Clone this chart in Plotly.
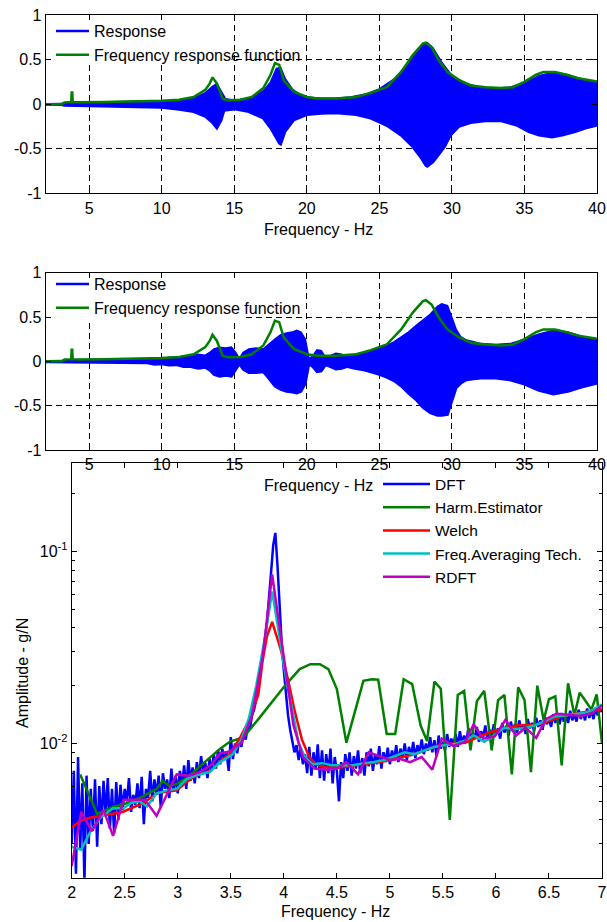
import numpy as np
import plotly.graph_objects as go

# ---------------- Panels 1 & 2: frequency response function (green) ----------------
frf_freq = [2, 3.1, 3.3, 3.7, 3.76, 3.79, 3.83, 3.86, 4.2, 6, 8, 10, 11.2, 12.2, 13.0, 13.3,
            13.5, 13.8, 14.2, 14.6, 15.4, 16.2, 17.0, 17.5, 17.8, 18.1, 18.4, 19.1, 20.0,
            20.7, 22.0, 23.4, 24.4, 25.5, 26.5, 27.3, 28.0, 28.2, 28.6, 29.1, 29.7, 30.5,
            31.3, 32.3, 33.4, 34.2, 35.0, 35.8, 36.3, 37.1, 37.9, 38.7, 39.8, 40]
frf_amp = [0, 0, 0.02, 0.022, 0.025, 0.13, 0.13, 0.025, 0.022, 0.025, 0.03, 0.037, 0.05, 0.08,
           0.16, 0.23, 0.30, 0.23, 0.06, 0.045, 0.05, 0.08, 0.18, 0.33, 0.46, 0.44, 0.27, 0.14,
           0.08, 0.064, 0.064, 0.08, 0.127, 0.19, 0.36, 0.55, 0.68, 0.69, 0.64, 0.49, 0.36,
           0.27, 0.21, 0.19, 0.18, 0.19, 0.25, 0.33, 0.36, 0.36, 0.33, 0.29, 0.26, 0.255]

# Panel 1: response envelope (upper / lower edge of the blue band)
resp1_up_freq = [2, 2.5, 3.1, 3.3, 5, 8, 10, 11, 12, 12.5, 13, 13.5, 13.8, 14.1, 14.4, 15, 16,
                 17, 17.5, 17.9, 18.2, 18.5, 19, 19.5, 20, 21, 22, 23, 24, 25, 26, 27, 27.5, 28,
                 28.3, 28.7, 29.3, 30, 31, 32, 33, 34, 35, 36, 37, 38, 39, 40]
resp1_up = [0.005, 0.005, 0.006, 0.015, 0.02, 0.025, 0.03, 0.04, 0.06, 0.09, 0.13, 0.2, 0.23,
            0.15, 0.06, 0.045, 0.06, 0.15, 0.25, 0.40, 0.41, 0.29, 0.17, 0.11, 0.08, 0.065,
            0.065, 0.08, 0.11, 0.17, 0.28, 0.46, 0.57, 0.66, 0.69, 0.63, 0.47, 0.32, 0.23,
            0.19, 0.18, 0.19, 0.24, 0.32, 0.36, 0.33, 0.28, 0.25]
resp1_lo_freq = [2, 3.1, 3.3, 5, 8, 10, 11.2, 12.2, 13.0, 13.5, 13.8, 14.1, 14.3, 15, 16, 17,
                 17.5, 18.1, 18.2, 18.5, 19.1, 20, 21, 22, 23.4, 24.4, 25.5, 26.5, 27.3, 27.9,
                 28.2, 28.3, 28.7, 29.1, 29.5, 29.9, 30.5, 31.3, 32.3, 33.4, 34.5, 35.3, 36.0,
                 36.9, 37.6, 38.5, 39.2, 40]
resp1_lo = [-0.005, -0.006, -0.015, -0.02, -0.025, -0.037, -0.06, -0.086, -0.14, -0.21, -0.27,
            -0.18, -0.07, -0.056, -0.086, -0.16, -0.27, -0.44, -0.45, -0.31, -0.18, -0.12,
            -0.105, -0.1, -0.12, -0.16, -0.24, -0.35, -0.48, -0.61, -0.69, -0.70, -0.65, -0.57,
            -0.48, -0.35, -0.25, -0.21, -0.19, -0.19, -0.24, -0.31, -0.35, -0.37, -0.35, -0.31,
            -0.27, -0.24]

# Panel 2: delayed response envelope
resp2_freq = [2, 3, 4, 5, 6, 7, 8, 9, 9.5, 10, 10.5, 11, 11.5, 12, 12.5, 13, 13.3, 13.6, 14.0,
              14.4, 14.8, 15.1, 15.35, 15.6, 16.0, 16.5, 17.0, 17.4, 17.8, 18.2, 18.6, 19.0,
              19.3, 19.6, 19.9, 20.15, 20.4, 20.7, 21.0, 21.3, 21.6, 22.0, 22.4, 22.8, 23.3,
              24, 25, 25.5, 26, 26.5, 27, 27.5, 28, 28.5, 29, 29.3, 29.7, 30.0, 30.3, 30.6, 31,
              31.5, 32, 33, 34, 35, 36, 37, 38, 39, 40]
resp2_up = [0.008, 0.01, 0.012, 0.015, 0.012, 0.015, 0.018, 0.02, 0.035, 0.03, 0.045, 0.04,
            0.06, 0.055, 0.08, 0.07, 0.1, 0.14, 0.16, 0.15, 0.16, 0.1, 0.03, 0.1, 0.14, 0.15,
            0.14, 0.2, 0.25, 0.3, 0.32, 0.33, 0.35, 0.33, 0.25, 0.03, 0.06, 0.13, 0.12, 0.04,
            0.06, 0.09, 0.08, 0.05, 0.08, 0.1, 0.15, 0.18, 0.22, 0.27, 0.33, 0.4, 0.46, 0.53,
            0.62, 0.65, 0.63, 0.5, 0.36, 0.28, 0.24, 0.22, 0.2, 0.19, 0.2, 0.25, 0.31, 0.35,
            0.33, 0.28, 0.25]
resp2_lo = [-0.008, -0.01, -0.012, -0.015, -0.012, -0.015, -0.018, -0.02, -0.035, -0.03,
            -0.045, -0.04, -0.06, -0.06, -0.08, -0.07, -0.1, -0.15, -0.17, -0.16, -0.17, -0.1,
            -0.03, -0.09, -0.13, -0.13, -0.12, -0.2, -0.28, -0.32, -0.34, -0.35, -0.36, -0.34,
            -0.25, -0.03, -0.06, -0.12, -0.11, -0.04, -0.06, -0.09, -0.08, -0.06, -0.08, -0.1,
            -0.15, -0.18, -0.22, -0.28, -0.36, -0.43, -0.52, -0.58, -0.61, -0.61, -0.6, -0.45,
            -0.3, -0.25, -0.21, -0.2, -0.19, -0.19, -0.21, -0.26, -0.33, -0.37, -0.34, -0.29,
            -0.25]

# ---------------- Panel 3: amplitude estimates ----------------
dft_freq = np.round(np.linspace(2.0, 7.0, 251), 2)
dft_amp = [
    0.0030, 0.0072, 0.0021, 0.0085, 0.0028, 0.0062, 0.0019, 0.0068, 0.0030, 0.0058,
    0.0035, 0.0065, 0.0029, 0.0060, 0.0038, 0.0064, 0.0042, 0.0066, 0.0036, 0.0058,
    0.0034, 0.0063, 0.0040, 0.0061, 0.0045, 0.0058, 0.0050, 0.0066, 0.0044, 0.0054,
    0.0048, 0.0062, 0.0046, 0.0067, 0.0038, 0.0058, 0.0052, 0.0072, 0.0050, 0.0065,
    0.0054, 0.0068, 0.0046, 0.0070, 0.0058, 0.0065, 0.0052, 0.0074, 0.0056, 0.0068,
    0.0055, 0.0072, 0.0060, 0.0077, 0.0058, 0.0082, 0.0064, 0.0075, 0.0062, 0.0080,
    0.0066, 0.0086, 0.0070, 0.0079, 0.0066, 0.0083, 0.0072, 0.0088, 0.0074, 0.0092,
    0.0078, 0.0094, 0.0082, 0.0090, 0.0072, 0.0108, 0.0083, 0.0100, 0.0089, 0.0104,
    0.0096, 0.0112, 0.0105, 0.0122, 0.0118, 0.0140, 0.0150, 0.0172, 0.0195, 0.0240,
    0.0280, 0.0340, 0.0420, 0.0550, 0.0780, 0.1080, 0.1250, 0.0850, 0.0500, 0.0330,
    0.0240, 0.0180, 0.0140, 0.0118, 0.0102, 0.0090, 0.0098, 0.0082, 0.0095, 0.0078,
    0.0088, 0.0070, 0.0096, 0.0068, 0.0090, 0.0074, 0.0099, 0.0066, 0.0092, 0.0064,
    0.0088, 0.0070, 0.0094, 0.0062, 0.0085, 0.0072, 0.0050, 0.0080, 0.0066, 0.0088,
    0.0072, 0.0090, 0.0068, 0.0086, 0.0074, 0.0092, 0.0070, 0.0084, 0.0068, 0.0090,
    0.0076, 0.0094, 0.0072, 0.0088, 0.0078, 0.0097, 0.0074, 0.0090, 0.0080, 0.0095,
    0.0078, 0.0092, 0.0082, 0.0098, 0.0080, 0.0094, 0.0084, 0.0100, 0.0082, 0.0096,
    0.0086, 0.0102, 0.0084, 0.0098, 0.0090, 0.0105, 0.0088, 0.0100, 0.0092, 0.0108,
    0.0090, 0.0104, 0.0086, 0.0110, 0.0094, 0.0102, 0.0092, 0.0112, 0.0096, 0.0106,
    0.0098, 0.0112, 0.0096, 0.0116, 0.0100, 0.0110, 0.0102, 0.0120, 0.0104, 0.0114,
    0.0106, 0.0122, 0.0102, 0.0116, 0.0108, 0.0124, 0.0104, 0.0118, 0.0110, 0.0126,
    0.0112, 0.0120, 0.0106, 0.0128, 0.0114, 0.0124, 0.0110, 0.0130, 0.0116, 0.0126,
    0.0114, 0.0132, 0.0118, 0.0126, 0.0112, 0.0134, 0.0120, 0.0128, 0.0116, 0.0136,
    0.0122, 0.0132, 0.0118, 0.0138, 0.0126, 0.0134, 0.0122, 0.0142, 0.0128, 0.0138,
    0.0126, 0.0144, 0.0130, 0.0140, 0.0128, 0.0148, 0.0132, 0.0142, 0.0130, 0.0150,
    0.0134, 0.0146, 0.0132, 0.0152, 0.0136, 0.0148, 0.0134, 0.0154, 0.0140, 0.0150,
    0.0146]

harm_freq = [2.08, 2.16, 2.24, 2.32, 2.40, 2.48, 2.56, 2.64, 2.72, 2.80, 2.86, 2.92, 3.00,
             3.08, 3.16, 3.24, 3.32, 3.40, 3.49, 3.62, 3.76, 3.88, 4.01, 4.15, 4.25, 4.34,
             4.42, 4.50, 4.59, 4.75, 4.83, 4.89, 4.97, 5.05, 5.13, 5.21, 5.29, 5.35, 5.42,
             5.48, 5.565, 5.64, 5.70, 5.76, 5.82, 5.89, 5.96, 6.02, 6.08, 6.15, 6.21, 6.27,
             6.33, 6.39, 6.45, 6.50, 6.56, 6.62, 6.68, 6.74, 6.79, 6.85, 6.90, 6.95, 7.0]
harm_amp = [0.0069, 0.0055, 0.0043, 0.0045, 0.0047, 0.0048, 0.0050, 0.0052, 0.0055, 0.0058,
            0.0064, 0.0060, 0.0062, 0.0066, 0.0072, 0.0079, 0.0086, 0.0094, 0.0102, 0.0108,
            0.0134, 0.0162, 0.0200, 0.0244, 0.0259, 0.0259, 0.0244, 0.0192, 0.0101, 0.0212,
            0.0216, 0.0215, 0.0112, 0.0112, 0.0216, 0.0204, 0.0124, 0.0103, 0.0210, 0.0193,
            0.0040, 0.0179, 0.0188, 0.0092, 0.0166, 0.0188, 0.0092, 0.0168, 0.0179, 0.0069,
            0.0196, 0.0168, 0.0071, 0.0200, 0.0132, 0.0170, 0.0176, 0.0077, 0.0206, 0.0140,
            0.0184, 0.0165, 0.0150, 0.0180, 0.0100]

welch_freq = [2.0, 2.08, 2.17, 2.27, 2.37, 2.48, 2.56, 2.64, 2.72, 2.80, 2.90, 2.99, 3.07,
              3.15, 3.23, 3.31, 3.40, 3.49, 3.59, 3.68, 3.76, 3.80, 3.84, 3.89, 3.97, 4.04,
              4.10, 4.17, 4.24, 4.30, 4.40, 4.53, 4.62, 4.72, 4.82, 4.91, 5.0, 5.07, 5.16,
              5.26, 5.35, 5.47, 5.60, 5.71, 5.80, 5.90, 6.0, 6.10, 6.19, 6.30, 6.41, 6.52,
              6.62, 6.72, 6.81, 6.91, 7.0]
welch_amp = [0.00365, 0.00395, 0.0041, 0.0042, 0.0043, 0.0044, 0.0046, 0.0048, 0.0051, 0.0055,
             0.0056, 0.0057, 0.0062, 0.0067, 0.0070, 0.0072, 0.0081, 0.0088, 0.0108, 0.0135,
             0.018, 0.027, 0.036, 0.043, 0.031, 0.0215, 0.015, 0.0105, 0.0085, 0.0078,
             0.0075, 0.0075, 0.0076, 0.0078, 0.0079, 0.0080, 0.0082, 0.0084, 0.0086, 0.0089,
             0.0093, 0.0098, 0.0100, 0.0101, 0.0106, 0.0112, 0.0117, 0.0121, 0.0124, 0.0125,
             0.0126, 0.0132, 0.0139, 0.0142, 0.0145, 0.0148, 0.0151]

fat_freq = [2.0, 2.09, 2.18, 2.27, 2.39, 2.49, 2.56, 2.64, 2.71, 2.80, 2.90, 2.99, 3.08, 3.20,
            3.30, 3.40, 3.52, 3.60, 3.67, 3.74, 3.82, 3.89, 3.97, 4.02, 4.08, 4.14, 4.20,
            4.27, 4.36, 4.45, 4.55, 4.65, 4.75, 4.85, 4.95, 5.05, 5.14, 5.23, 5.32, 5.42,
            5.51, 5.60, 5.70, 5.79, 5.89, 5.98, 6.08, 6.17, 6.26, 6.36, 6.45, 6.55, 6.64,
            6.74, 6.83, 6.92, 7.0]
fat_amp = [0.0029, 0.0028, 0.0035, 0.0041, 0.0046, 0.0046, 0.0049, 0.0050, 0.0047, 0.0055,
           0.0057, 0.0058, 0.0065, 0.0069, 0.0071, 0.0080, 0.0088, 0.0105, 0.0135, 0.020,
           0.035, 0.062, 0.033, 0.022, 0.015, 0.010, 0.0085, 0.0078, 0.0079, 0.0077, 0.0077,
           0.0077, 0.0079, 0.0080, 0.0082, 0.0086, 0.0090, 0.0088, 0.0092, 0.0096, 0.0098,
           0.0099, 0.0103, 0.0110, 0.0102, 0.0110, 0.0121, 0.0119, 0.0120, 0.0124, 0.0130,
           0.0138, 0.0140, 0.0142, 0.0144, 0.0150, 0.0160]

rdft_freq = [2.0, 2.09, 2.19, 2.30, 2.39, 2.49, 2.59, 2.69, 2.80, 2.90, 2.99, 3.10, 3.21, 3.31,
             3.40, 3.49, 3.60, 3.70, 3.80, 3.89, 3.99, 4.09, 4.18, 4.29, 4.40, 4.50, 4.59,
             4.70, 4.80, 4.90, 5.00, 5.10, 5.19, 5.30, 5.40, 5.49, 5.60, 5.71, 5.79, 5.88,
             5.99, 6.09, 6.19, 6.28, 6.38, 6.47, 6.57, 6.68, 6.80, 6.91, 7.0]
rdft_amp = [0.0023, 0.0044, 0.0035, 0.0045, 0.0033, 0.0051, 0.0051, 0.0051, 0.0042, 0.0054,
            0.0069, 0.0068, 0.0071, 0.0077, 0.0089, 0.0091, 0.0101, 0.0140, 0.028, 0.076,
            0.030, 0.0125, 0.0085, 0.0074, 0.0073, 0.0074, 0.0080, 0.0069, 0.0090, 0.0086,
            0.0082, 0.0083, 0.0080, 0.0085, 0.0073, 0.0106, 0.0097, 0.0102, 0.0126, 0.0106,
            0.0109, 0.0133, 0.0110, 0.0121, 0.0107, 0.0134, 0.0143, 0.0141, 0.0139, 0.0144,
            0.0158]

# tick labels
top_xticks = [5, 10, 15, 20, 25, 30, 35, 40]
top_yticks = [-1, -0.5, 0, 0.5, 1]
top_yticktext = ["-1", "-0.5", "0", "0.5", "1"]
bot_xticks = [2, 2.5, 3, 3.5, 4, 4.5, 5, 5.5, 6, 6.5, 7]
bot_xticktext = ["2", "2.5", "3", "3.5", "4", "4.5", "5", "5.5", "6", "6.5", "7"]
bot_yticks = [0.01, 0.1]
bot_yticktext = ["10<sup>-2</sup>", "10<sup>-1</sup>"]
bot_yminor = [0.002, 0.003, 0.004, 0.005, 0.006, 0.007, 0.008, 0.009,
              0.02, 0.03, 0.04, 0.05, 0.06, 0.07, 0.08, 0.09, 0.2]

BLUE = "#0000FF"
GREEN = "#008000"
RED = "#FF0000"
CYAN = "#00BFBF"
MAGENTA = "#BF00BF"
FONT = "Arial, 'Liberation Sans', sans-serif"
FS = 16
LW = 2.5

W, H = 607, 922


def px_x(v):
    return v / W


def px_y(v):
    return 1 - v / H


fig = go.Figure()

# ---- panel 1 ----
fig.add_trace(go.Scatter(x=resp1_lo_freq, y=resp1_lo, mode="lines", name="Response",
                         line=dict(color=BLUE, width=LW), xaxis="x", yaxis="y",
                         legend="legend"))
fig.add_trace(go.Scatter(x=resp1_up_freq, y=resp1_up, mode="lines", fill="tonexty",
                         fillcolor=BLUE, line=dict(color=BLUE, width=1.5), showlegend=False,
                         xaxis="x", yaxis="y"))
fig.add_trace(go.Scatter(x=frf_freq, y=frf_amp, mode="lines",
                         name="Frequency response function",
                         line=dict(color=GREEN, width=LW), xaxis="x", yaxis="y",
                         legend="legend"))

# ---- panel 2 ----
fig.add_trace(go.Scatter(x=resp2_freq, y=resp2_lo, mode="lines", name="Response",
                         line=dict(color=BLUE, width=LW), xaxis="x2", yaxis="y2",
                         legend="legend2"))
fig.add_trace(go.Scatter(x=resp2_freq, y=resp2_up, mode="lines", fill="tonexty",
                         fillcolor=BLUE, line=dict(color=BLUE, width=1.5), showlegend=False,
                         xaxis="x2", yaxis="y2"))
fig.add_trace(go.Scatter(x=frf_freq, y=frf_amp, mode="lines",
                         name="Frequency response function",
                         line=dict(color=GREEN, width=LW), xaxis="x2", yaxis="y2",
                         legend="legend2"))

# ---- panel 3 ----
for xs, ys, nm, col in [(dft_freq, dft_amp, "DFT", BLUE),
                        (harm_freq, harm_amp, "Harm.Estimator", GREEN),
                        (welch_freq, welch_amp, "Welch", RED),
                        (fat_freq, fat_amp, "Freq.Averaging Tech.", CYAN),
                        (rdft_freq, rdft_amp, "RDFT", MAGENTA)]:
    fig.add_trace(go.Scatter(x=xs, y=ys, mode="lines", name=nm,
                             line=dict(color=col, width=LW), xaxis="x3", yaxis="y3",
                             legend="legend3"))

axis_common = dict(showline=True, linecolor="black", linewidth=1, mirror="ticks",
                   ticks="inside", ticklen=5, tickcolor="black", tickwidth=1,
                   zeroline=False, automargin=False,
                   tickfont=dict(family=FONT, size=FS, color="black"))
grid_common = dict(showgrid=True, gridcolor="black", gridwidth=1, griddash="6px,4px")

x12_dom = [px_x(45.7), px_x(597)]
legend_common = dict(xanchor="left", yanchor="top", bgcolor="rgba(0,0,0,0)", borderwidth=0,
                     traceorder="normal")
fig.update_layout(
    width=W, height=H, margin=dict(l=0, r=0, t=0, b=0),
    paper_bgcolor="white", plot_bgcolor="rgba(0,0,0,0)",
    font=dict(family=FONT, size=FS, color="black"),
    xaxis=dict(domain=x12_dom, range=[2, 40], anchor="y", tickmode="array",
               tickvals=top_xticks, **axis_common, **grid_common),
    yaxis=dict(domain=[px_y(193.3), px_y(15)], range=[-1, 1], anchor="x", tickmode="array",
               tickvals=top_yticks, ticktext=top_yticktext, **axis_common, **grid_common),
    xaxis2=dict(domain=x12_dom, range=[2, 40], anchor="y2", tickmode="array",
                tickvals=top_xticks, **axis_common, **grid_common),
    yaxis2=dict(domain=[px_y(450), px_y(272.7)], range=[-1, 1], anchor="x2",
                tickmode="array", tickvals=top_yticks, ticktext=top_yticktext,
                **axis_common, **grid_common),
    xaxis3=dict(domain=[px_x(71.7), px_x(602)], range=[2, 7], anchor="y3", tickmode="array",
                tickvals=bot_xticks, ticktext=bot_xticktext, showgrid=False, **axis_common),
    yaxis3=dict(domain=[px_y(877.7), px_y(462.7)], type="log",
                range=[np.log10(0.002), np.log10(0.29)], anchor="x3", tickmode="array",
                tickvals=bot_yticks, ticktext=bot_yticktext, showgrid=False,
                minor=dict(tickmode="array", tickvals=bot_yminor, ticks="inside",
                           ticklen=3, tickcolor="black", showgrid=False),
                **axis_common),
    legend=dict(x=px_x(51), y=px_y(14), itemwidth=33,
                font=dict(family=FONT, size=FS, color="black"), **legend_common),
    legend2=dict(x=px_x(51), y=px_y(267), itemwidth=33,
                 font=dict(family=FONT, size=FS, color="black"), **legend_common),
    legend3=dict(x=px_x(378), y=px_y(467.5), itemwidth=47,
                 font=dict(family=FONT, size=15.5, color="black"), **legend_common),
)

# white legend background boxes (cover the grid in the upper-left corner)
fig.add_shape(type="rect", xref="x", yref="y", x0=2, x1=14.8, y0=0.46, y1=1,
              fillcolor="white", line=dict(width=0), layer="between")
fig.add_shape(type="rect", xref="x2", yref="y2", x0=2, x1=15.8, y0=0.45, y1=1,
              fillcolor="white", line=dict(width=0), layer="between")

# axis titles
for txt, xx, yy, ang in [("Frequency - Hz", 318, 229, 0),
                         ("Frequency - Hz", 318, 485, 0),
                         ("Frequency - Hz", 335, 911.7, 0),
                         ("Amplitude - g/N", 22, 673, -90)]:
    fig.add_annotation(text=txt, x=px_x(xx), y=px_y(yy), xref="paper", yref="paper",
                       xanchor="center", yanchor="middle", showarrow=False, textangle=ang,
                       font=dict(family=FONT, size=FS, color="black"))

fig.write_html("out.html", config={"displayModeBar": False},
               post_script="document.body.style.margin='0';document.body.style.padding='0';")
